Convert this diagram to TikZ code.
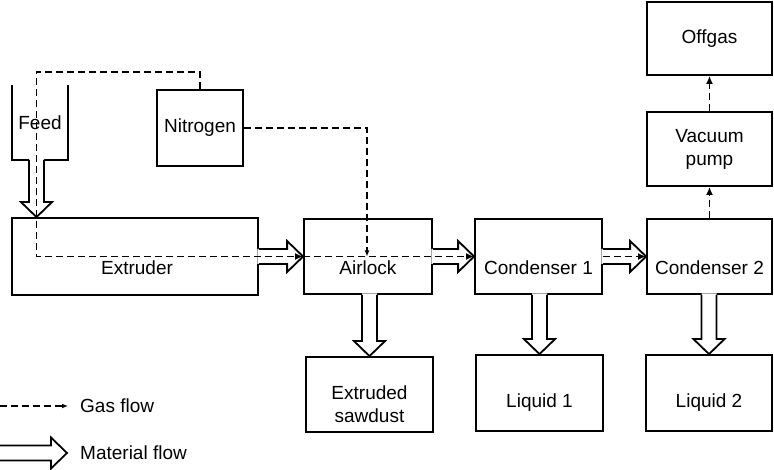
\documentclass[tikz,border=0pt]{standalone}
\usepackage{fontspec}
\setmainfont{Liberation Sans}
\usetikzlibrary{calc,arrows.meta}
\tikzset{
  txt/.style={font=\fontsize{19}{23}\selectfont, align=center, inner sep=0pt, text=black},
  box/.style={draw, line width=1.8pt, inner sep=0pt},
  gas/.style={line width=1.7pt, dash pattern=on 7pt off 4pt},
  gasarrow/.style={gas, -{Latex[length=8pt,width=7pt]}},
  gasarrowsmall/.style={gas, -{Latex[length=6pt,width=5pt]}},
  mat/.style={line width=1.8pt, line join=miter, miter limit=10},
}
\newcommand\matH[2]{%
  \fill[white] ($(#1)+(-1.5,-7.5)$) -- ($(#2)+(-16,-7.5)$) -- ($(#2)+(-16,-15.5)$) -- (#2) -- ($(#2)+(-16,15.5)$) -- ($(#2)+(-16,7.5)$) -- ($(#1)+(-1.5,7.5)$) -- cycle;
  \draw[mat] ($(#1)+(0,-7.5)$) -- ($(#2)+(-16,-7.5)$) -- ($(#2)+(-16,-15.5)$) -- (#2) -- ($(#2)+(-16,15.5)$) -- ($(#2)+(-16,7.5)$) -- ($(#1)+(0,7.5)$);}
\newcommand\matV[2]{%
  \fill[white] ($(#1)+(-7.5,-1.5)$) -- ($(#2)+(-7.5,-15)$) -- ($(#2)+(-15.5,-15)$) -- (#2) -- ($(#2)+(15.5,-15)$) -- ($(#2)+(7.5,-15)$) -- ($(#1)+(7.5,-1.5)$) -- cycle;
  \draw[mat] ($(#1)+(-7.5,0)$) -- ($(#2)+(-7.5,-15)$) -- ($(#2)+(-15.5,-15)$) -- (#2) -- ($(#2)+(15.5,-15)$) -- ($(#2)+(7.5,-15)$) -- ($(#1)+(7.5,0)$);}
\begin{document}
\begin{tikzpicture}[x=1pt,y=-1pt]
\fill[white] (0,0) rectangle (774,470);
\useasboundingbox (0,0) rectangle (774,470);

% Feed hopper
\node[txt, minimum width=56, minimum height=75] (feed) at (40,122.5) {Feed};
\draw[mat] (feed.north west) -- (feed.south west) -- (feed.south east) -- (feed.north east);

% boxes
\node[box, minimum width=86, minimum height=76] (nitrogen) at (200,128) {};
\node[txt] (nitrogenT) at (nitrogen.center) {Nitrogen};
\node[box, minimum width=246, minimum height=77] (extruder) at (135,256.5) {};
\node[txt] (extruderT) at (137,268) {Extruder};
\node[box, minimum width=128, minimum height=75] (airlock) at (368,256.5) {};
\node[txt] (airlockT) at (368,268) {Airlock};
\node[box, minimum width=127, minimum height=75] (cond1) at (538.5,256.5) {};
\node[txt] (cond1T) at (538.5,268) {Condenser 1};
\node[box, minimum width=125, minimum height=75] (cond2) at (709.5,256.5) {};
\node[txt] (cond2T) at (709.5,268) {Condenser 2};
\node[box, minimum width=125, minimum height=74] (vac) at (709.5,149) {};
\node[txt] (vacT) at (vac.center) {Vacuum\\pump};
\node[box, minimum width=125, minimum height=73] (offgas) at (709.5,38.5) {};
\node[txt] (offgasT) at (offgas.center) {Offgas};
\node[box, minimum width=127, minimum height=75] (sawdust) at (369.5,394.5) {};
\node[txt] (sawdustT) at (369.5,404) {Extruded\\sawdust};
\node[box, minimum width=127, minimum height=76] (liq1) at (539.5,393) {};
\node[txt] (liq1T) at (539.5,403) {Liquid 1};
\node[box, minimum width=126, minimum height=76] (liq2) at (709,393) {};
\node[txt] (liq2T) at (709,403) {Liquid 2};

% material flow
\coordinate (feedbot) at (36.5,160);
\coordinate (feedtip) at (feedbot |- extruder.north);
\matV{feedbot}{feedtip}
\matH{extruder.east}{airlock.west}
\matH{airlock.east}{cond1.west}
\matH{cond1.east}{cond2.west}
\coordinate (a1) at (sawdust.north |- airlock.south);
\matV{a1}{sawdust.north}
\coordinate (c1) at (liq1.north |- cond1.south);
\matV{c1}{liq1.north}
\coordinate (c2) at (liq2.north |- cond2.south);
\matV{c2}{liq2.north}

% gas flow
\coordinate (gtop) at (36.5,72);
\draw[gasarrow] (nitrogen.north) |- (gtop) |- (airlock.west);
\coordinate (nmeet) at (367,256.5);
\draw[gasarrowsmall] (nitrogen.east) -| (nmeet);
\draw[gasarrow] (airlock.west) -- (cond1.west);
\draw[gasarrow] (cond1.east) -- (cond2.west);
\draw[gasarrow] (cond2.north) -- (vac.south);
\draw[gasarrow] (vac.north) -- (offgas.south);

% legend
\coordinate (lgA) at (0,406);
\coordinate (lgB) at (68,406);
\draw[gasarrowsmall] (lgA) -- (lgB);
\node[txt, anchor=west] (lgT) at (80,406) {Gas flow};
\coordinate (lmA) at (0,453);
\coordinate (lmB) at (67,453);
\matH{lmA}{lmB}
\node[txt, anchor=west] (lmT) at (80,453) {Material flow};
\end{tikzpicture}
\end{document}
